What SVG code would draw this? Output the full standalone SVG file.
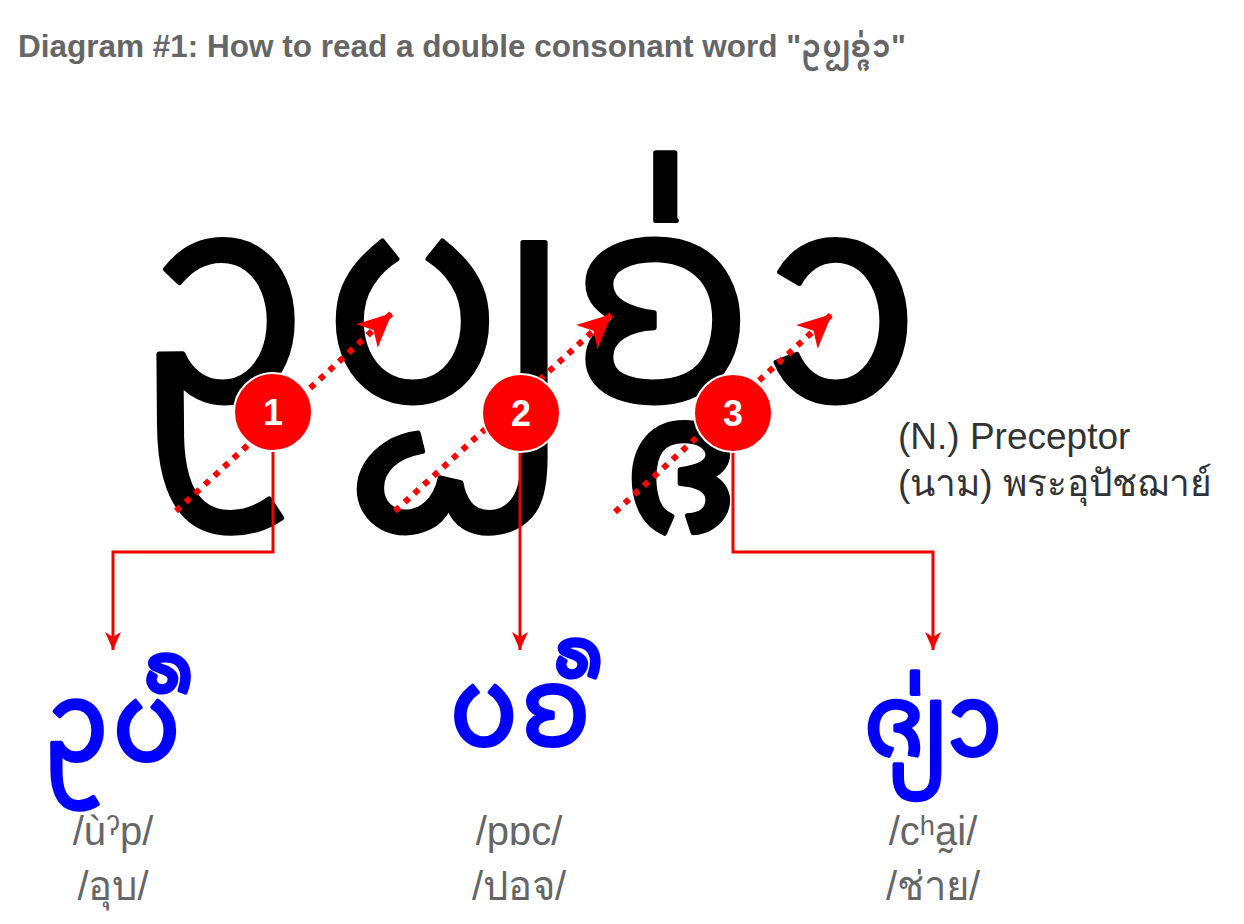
<svg xmlns="http://www.w3.org/2000/svg" width="1244" height="924" viewBox="0 0 1244 924">
<defs>
<style>
.title{font-family:"Liberation Sans",Arial,sans-serif;font-weight:bold;font-size:31.5px;fill:#666666}
.tt{font-family:"Noto Sans Tai Tham","Noto Sans","DejaVu Sans",sans-serif}
.big{font-size:295px;fill:#000000;stroke:#000000;stroke-width:5;stroke-linejoin:round}
.blue{font-size:110px;fill:#0000ff;stroke:#0000ff;stroke-width:4;stroke-linejoin:round;text-anchor:middle}
.ph{font-family:"Liberation Sans",Arial,"Noto Sans",sans-serif;font-size:40px;fill:#666666;text-anchor:middle}
.def{font-family:"Liberation Sans",Arial,"Noto Sans",sans-serif;font-size:37px;fill:#333333}
.dot{fill:none;stroke:#ff0000;stroke-width:6;stroke-dasharray:6 7}
.con{fill:none;stroke:#ee0000;stroke-width:3}
.badge{fill:#ff0000;stroke:#ffffff;stroke-width:2}
.num{font-family:"Liberation Sans",Arial,sans-serif;font-weight:bold;font-size:36px;fill:#ffffff;text-anchor:middle}
</style>
<marker id="dArrow" markerUnits="userSpaceOnUse" viewBox="0 0 36 36" refX="34" refY="18" markerWidth="36" markerHeight="36" orient="auto">
<path d="M0,2 L34,18 L0,34 L9,18 Z" fill="#ff0000"/>
</marker>
<marker id="cArrow" markerUnits="userSpaceOnUse" viewBox="0 0 20 20" refX="18" refY="10" markerWidth="20" markerHeight="20" orient="auto">
<path d="M0,2 L18,10 L0,18 L5,10 Z" fill="#ee0000"/>
</marker>
</defs>
<rect width="1244" height="924" fill="#ffffff"/>
<text class="title" x="18" y="57">Diagram #1: How to read a double consonant word "<tspan class="tt">ᩏᨷ᩠ᨷᨧ᩠ᨩ᩵ᩣ</tspan>"</text>

<g id="word">
<text class="tt big" x="135" y="400">ᩏᨷ᩠ᨷᨧ᩠ᨩ᩵ᩣ</text>
</g>

<g id="connectors">
<path class="dot" d="M176,511 L392,313" marker-end="url(#dArrow)"/>
<path class="dot" d="M395,511 L612,314" marker-end="url(#dArrow)"/>
<path class="dot" d="M615,512 L832,314" marker-end="url(#dArrow)"/>
<path class="con" d="M273,452 V552 H113 V650" marker-end="url(#cArrow)"/>
<path class="con" d="M520,452 V650" marker-end="url(#cArrow)"/>
<path class="con" d="M733,452 V552 H933 V650" marker-end="url(#cArrow)"/>
</g>

<g id="badge1"><circle class="badge" cx="273" cy="412" r="39"/><text class="num" x="273" y="425">1</text></g>
<g id="badge2"><circle class="badge" cx="521" cy="413" r="39"/><text class="num" x="521" y="426">2</text></g>
<g id="badge3"><circle class="badge" cx="733" cy="413" r="39"/><text class="num" x="733" y="426">3</text></g>

<g id="definition">
<text class="def" x="898" y="449">(N.) Preceptor</text>
<text class="def" x="898" y="496">(นาม) พระอุปัชฌาย์</text>
</g>

<g id="syllable1">
<text class="tt blue" x="113" y="760">ᩏᨷ᩺</text>
<text class="ph" x="113" y="845">/ùˀp/</text>
<text class="ph" x="113" y="900">/อุบ/</text>
</g>
<g id="syllable2">
<text class="tt blue" x="520" y="745">ᨷᨧ᩺</text>
<text class="ph" x="519" y="845">/pɒc/</text>
<text class="ph" x="519" y="900">/ปอจ/</text>
</g>
<g id="syllable3">
<text class="tt blue" x="933" y="755" style="font-size:100px">ᨩ᩠ᨿ᩵ᩣ</text>
<text class="ph" x="933" y="845">/cʰa̰i/</text>
<text class="ph" x="933" y="900">/ช่าย/</text>
</g>
</svg>
